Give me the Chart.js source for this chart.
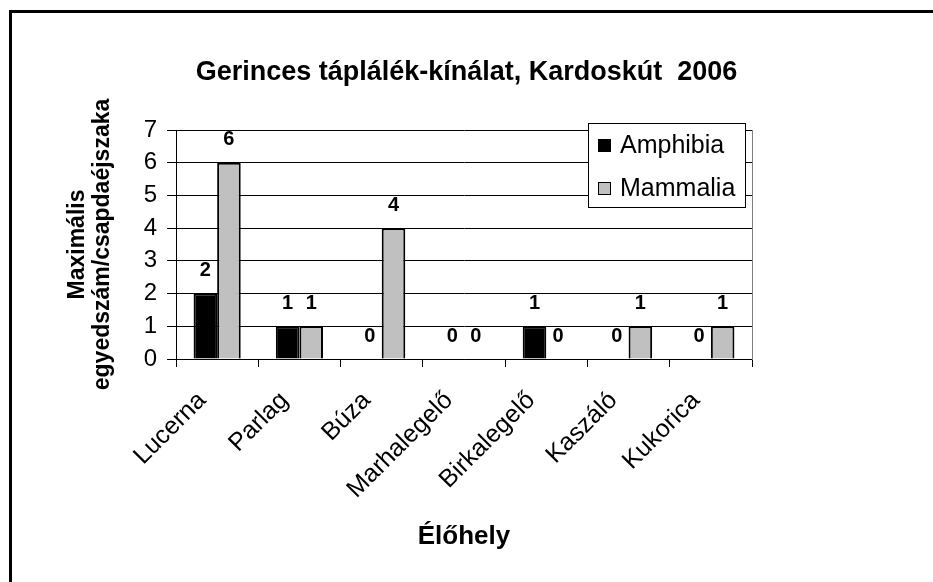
<!DOCTYPE html>
<html><head><meta charset="utf-8">
<script src="https://cdn.jsdelivr.net/npm/chart.js@4.4.0/dist/chart.umd.min.js"></script>
<style>html,body{margin:0;padding:0;background:#fff;} #wrap{width:933px;height:582px;position:relative;}</style>
</head><body><div id="wrap"><canvas id="c" width="933" height="582"></canvas></div>
<script>
const categories = ['Lucerna', 'Parlag', 'Búza', 'Marhalegelő', 'Birkalegelő', 'Kaszáló', 'Kukorica'];
const amphibia = [2, 1, 0, 0, 1, 0, 0];
const mammalia = [6, 1, 4, 0, 0, 1, 1];
const seriesNames = ['Amphibia', 'Mammalia'];
const yTicks = [0, 1, 2, 3, 4, 5, 6, 7];
const chartTitle = 'Gerinces táplálék-kínálat, Kardoskút  2006';
const yTitle = ['Maximális', 'egyedszám/csapdaéjszaka'];
const xTitle = 'Élőhely';

const FONT = "'Liberation Sans', Arial, sans-serif";
Chart.defaults.font.family = FONT;
Chart.defaults.color = '#000';

const framePlugin = {
  id: 'frame',
  beforeDraw(chart) {
    const ctx = chart.ctx;
    ctx.save();
    ctx.fillStyle = '#fff';
    ctx.fillRect(0, 0, chart.width, chart.height);
    ctx.restore();
  },
  afterDraw(chart) {
    const ctx = chart.ctx;
    ctx.save();
    ctx.strokeStyle = '#000';
    ctx.lineWidth = 3;
    ctx.beginPath();
    ctx.moveTo(10.5, chart.height + 5);
    ctx.lineTo(10.5, 11.5);
    ctx.lineTo(chart.width + 5, 11.5);
    ctx.stroke();
    ctx.restore();
  }
};

const legendPlugin = {
  id: 'boxLegend',
  afterDraw(chart) {
    const ctx = chart.ctx;
    const a = chart.chartArea;
    const w = 157, h = 84;
    const x0 = a.right - 7 - w, y0 = a.top - 7;
    ctx.save();
    ctx.fillStyle = '#fff';
    ctx.fillRect(x0, y0, w, h);
    ctx.strokeStyle = '#000';
    ctx.lineWidth = 1;
    ctx.strokeRect(x0 + 0.5, y0 + 0.5, w, h);
    ctx.font = '25px ' + FONT;
    ctx.textBaseline = 'middle';
    ctx.textAlign = 'left';
    chart.data.datasets.forEach((ds, i) => {
      const cy = y0 + 22 + i * 43;
      ctx.fillStyle = ds.backgroundColor;
      ctx.fillRect(x0 + 10, cy - 6, 13, 13);
      ctx.strokeStyle = '#000';
      ctx.strokeRect(x0 + 10.5, cy - 5.5, 12, 12);
      ctx.fillStyle = '#000';
      ctx.fillText(ds.label, x0 + 32, cy + 1);
    });
    ctx.restore();
  }
};

const valueLabelPlugin = {
  id: 'valueLabels',
  afterDatasetsDraw(chart) {
    const ctx = chart.ctx;
    ctx.save();
    ctx.font = 'bold 20px ' + FONT;
    ctx.fillStyle = '#000';
    ctx.textAlign = 'center';
    ctx.textBaseline = 'middle';
    chart.data.datasets.forEach((ds, di) => {
      const meta = chart.getDatasetMeta(di);
      meta.data.forEach((el, i) => {
        ctx.fillText(String(ds.data[i]), el.x, el.y - 23);
      });
    });
    ctx.restore();
  }
};

new Chart(document.getElementById('c'), {
  type: 'bar',
  data: {
    labels: categories,
    datasets: [
      { label: seriesNames[0], data: amphibia, backgroundColor: '#000000', borderColor: '#000', borderWidth: 2,
        categoryPercentage: 0.573, barPercentage: 1.0 },
      { label: seriesNames[1], data: mammalia, backgroundColor: '#c0c0c0', borderColor: '#000', borderWidth: 2,
        categoryPercentage: 0.573, barPercentage: 1.0 }
    ]
  },
  options: {
    responsive: false,
    animation: false,
    devicePixelRatio: 1,
    events: [],
    layout: { padding: 0 },
    plugins: {
      legend: { display: false },
      tooltip: { enabled: false },
      title: {
        display: true, text: chartTitle, color: '#000',
        font: { size: 27, weight: 'bold' },
        padding: { top: 56.8, bottom: 40.8 }
      }
    },
    scales: {
      x: {
        type: 'category',
        grid: { offset: true, drawOnChartArea: false, drawTicks: true, tickLength: 8, color: '#000' },
        border: { color: '#000', width: 1 },
        ticks: { autoSkip: false, minRotation: 45, maxRotation: 45, font: { size: 25 }, color: '#000', padding: 19, labelOffset: -15 },
        title: { display: true, text: xTitle, color: '#000', font: { size: 26, weight: 'bold' }, padding: { top: 0, bottom: 29.4 } },
        afterFit(s) { s.height = 223; }
      },
      y: {
        min: 0, max: 7,
        afterBuildTicks(s) { s.ticks = yTicks.map(v => ({ value: v })); },
        ticks: { font: { size: 24 }, color: '#000', padding: 10 },
        grid: { color: '#000', tickLength: 9 },
        border: { color: '#000', width: 1 },
        title: { display: true, text: yTitle, color: '#000', font: { size: 23, weight: 'bold', lineHeight: 1.09 }, padding: { top: 65.5, bottom: 0 } },
        afterFit(s) { s.width = 176; }
      },
      y2: {
        position: 'right', min: 0, max: 7,
        ticks: { display: false },
        grid: { drawOnChartArea: false, drawTicks: false },
        border: { color: '#808080', width: 1 },
        afterFit(s) { s.width = 181; }
      }
    }
  },
  plugins: [framePlugin, valueLabelPlugin, legendPlugin]
});
</script>
</body></html>
